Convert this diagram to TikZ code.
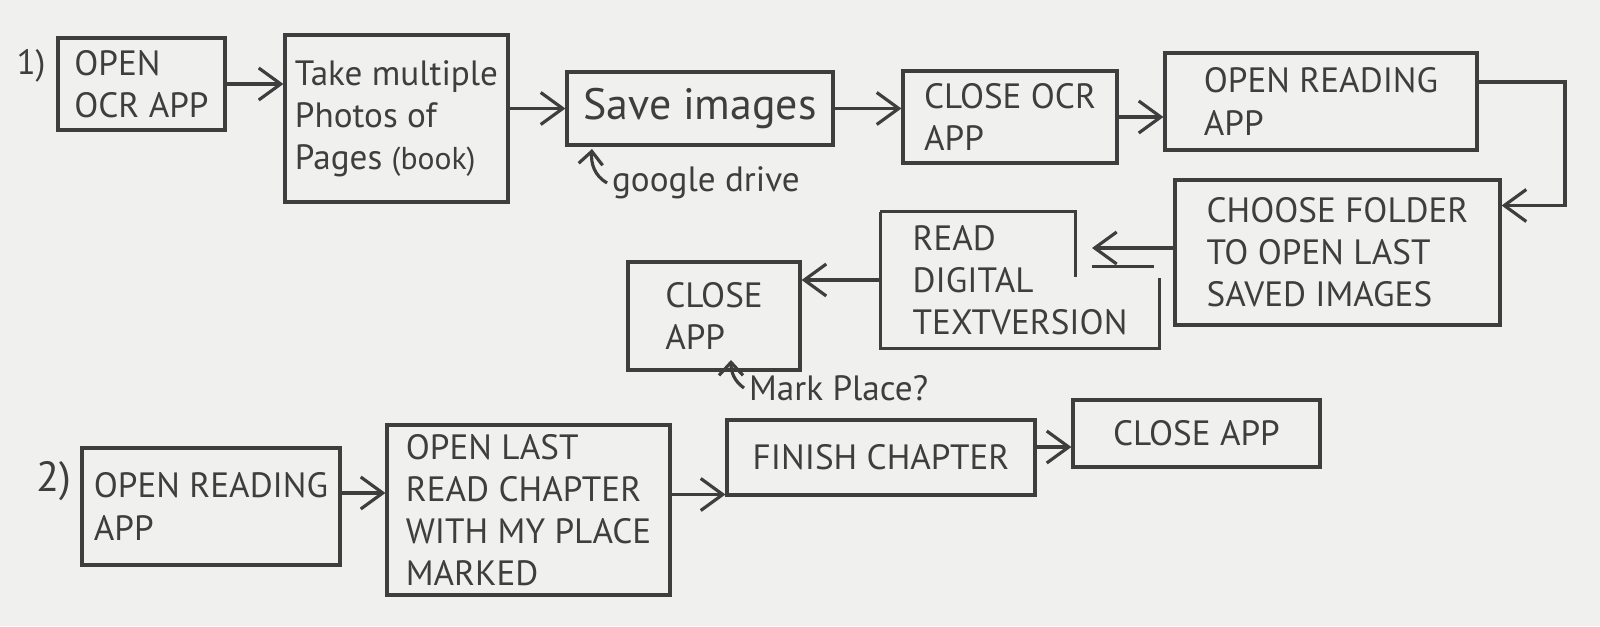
\documentclass[tikz,border=0pt]{standalone}
\usepackage{fontspec}
\setmainfont{PT Sans}
\usetikzlibrary{arrows.meta}
\definecolor{ink}{RGB}{62,62,62}
\definecolor{paper}{RGB}{240,240,239}

\begin{document}
\begin{tikzpicture}[>={Straight Barb[length=2.2mm,width=3.2mm]},line width=0.9pt,color=ink,
  font=\fontsize{10}{12}\selectfont,
  stepbox/.style={draw,align=left,inner sep=2pt},
  note/.style={anchor=west,inner sep=1pt},
  hint/.style={-{Straight Barb[length=1.3mm,width=2.4mm]}}]
  % 纸面
  \fill[paper] (0,0) rectangle (16,6.26);
  \useasboundingbox (0,0) rectangle (16,6.26);

  \coordinate (bend) at (15.65,5.44);
  \coordinate (readin) at (10.92,3.78);
  \coordinate (gdtip) at (5.92,4.77);
  \coordinate (mptip) at (7.31,2.66);

  % 第一行
  \node (lab1) at (0.31,5.60) {1)};
  \node[stepbox,minimum width=1.67cm,minimum height=0.92cm] (ocr) at (1.415,5.42) {OPEN\\OCR APP};
  \node[stepbox,minimum width=2.23cm,minimum height=1.67cm] (photos) at (3.965,5.075) {Take multiple\\Photos of\\Pages {\small(book)}};
  \node[stepbox,minimum width=2.66cm,minimum height=0.73cm,font=\fontsize{12.5}{14}\selectfont] (save) at (7.00,5.175) {Save images};
  \node[stepbox,minimum width=2.14cm,minimum height=0.92cm] (closeocr) at (10.10,5.09) {CLOSE OCR\\APP};
  \node[stepbox,minimum width=3.12cm,minimum height=0.97cm] (openread) at (13.21,5.245) {OPEN READING\\APP};
  \node[stepbox,minimum width=3.25cm,minimum height=1.45cm] (choose) at (13.375,3.735) {CHOOSE FOLDER\\TO OPEN LAST\\SAVED IMAGES};
  \node[align=left,minimum width=2.76cm,minimum height=1.30cm] (readdig) at (10.20,3.46) {READ\\DIGITAL\\TEXTVERSION};
  \node[stepbox,minimum width=1.72cm,minimum height=1.08cm] (closeapp) at (7.14,3.10) {CLOSE\\APP};
  \node[note] (gdrive) at (6.07,4.43) {google drive};
  \node[note] (mark) at (7.44,2.38) {Mark Place?};

  % 带缺口的框
  \draw (readdig.north west) -- (readdig.south west) -- (readdig.south east) -- ++(0,0.70);
  \draw (readdig.north west) -- ++(1.95,0) -- ++(0,-0.65);
  \draw ([shift={(-0.68,-0.55)}]readdig.north east) -- ++(0.62,0);

  % 第一行箭头
  \draw[->] (ocr.east) -- (ocr.east -| photos.west);
  \draw[->] (save.west -| photos.east) -- (save.west);
  \draw[->] (save.east) -- (save.east -| closeocr.west);
  \draw[->] (closeocr.east) -- (closeocr.east -| openread.west);
  \draw[->] (openread.east |- bend) -- (bend) |- ([yshift=4.7mm]choose.east);
  \draw[->] (choose.west |- readin) -- (readin);
  \draw[->] (readdig.west) -- (readdig.west -| closeapp.east);
  \draw[hint] (gdrive.west) to[out=150,in=-95] (gdtip);
  \draw[hint] (mark.west) to[out=145,in=-90] (mptip);

  % 第二行
  \node[font=\fontsize{12}{14}\selectfont] (lab2) at (0.54,1.45) {2)};
  \node[stepbox,minimum width=2.58cm,minimum height=1.17cm] (reading2) at (2.11,1.195) {OPEN READING\\APP};
  \node[stepbox,minimum width=2.83cm,minimum height=1.70cm] (lastread) at (5.285,1.16) {OPEN LAST\\READ CHAPTER\\WITH MY PLACE\\MARKED};
  \node[stepbox,minimum width=3.08cm,minimum height=0.75cm] (finish) at (8.81,1.685) {FINISH CHAPTER};
  \node[stepbox,minimum width=2.47cm,minimum height=0.67cm] (close2) at (11.965,1.925) {CLOSE APP};

  \coordinate (lrin) at ([yshift=1.7mm]lastread.west);
  \coordinate (finin) at ([yshift=-3.7mm]finish.west);
  \coordinate (c2in) at ([yshift=-1.35mm]close2.west);

  % 第二行箭头
  \draw[->] (reading2.east |- lrin) -- (lrin);
  \draw[->] (lastread.east |- finin) -- (finin);
  \draw[->] (finish.east |- c2in) -- (c2in);
\end{tikzpicture}
\end{document}
